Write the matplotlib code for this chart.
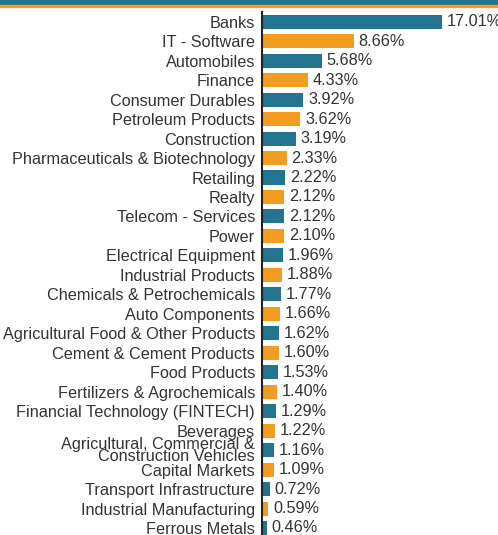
import matplotlib
matplotlib.use("Agg")
from matplotlib import pyplot as plt
from matplotlib.patches import Rectangle

sectors = ["Banks", "IT - Software", "Automobiles", "Finance", "Consumer Durables",
           "Petroleum Products", "Construction", "Pharmaceuticals & Biotechnology",
           "Retailing", "Realty", "Telecom - Services", "Power", "Electrical Equipment",
           "Industrial Products", "Chemicals & Petrochemicals", "Auto Components",
           "Agricultural Food & Other Products", "Cement & Cement Products",
           "Food Products", "Fertilizers & Agrochemicals",
           "Financial Technology (FINTECH)", "Beverages",
           "Agricultural, Commercial &\nConstruction Vehicles", "Capital Markets",
           "Transport Infrastructure", "Industrial Manufacturing", "Ferrous Metals"]
weights = [17.01, 8.66, 5.68, 4.33, 3.92, 3.62, 3.19, 2.33, 2.22, 2.12, 2.12, 2.10,
           1.96, 1.88, 1.77, 1.66, 1.62, 1.60, 1.53, 1.40, 1.29, 1.22, 1.16, 1.09,
           0.72, 0.59, 0.46]

teal = '#23748f'
orange = '#f39c1f'
txt = '#333333'

plt.rcParams['font.family'] = ['Liberation Sans', 'DejaVu Sans']

fig = plt.figure(figsize=(4.98, 5.35), dpi=100)
# top band
fig.patches.append(Rectangle((0, 1 - 5 / 535), 1, 5 / 535, transform=fig.transFigure,
                             color=teal, zorder=0))
fig.patches.append(Rectangle((0, 1 - 7 / 535), 1, 2 / 535, transform=fig.transFigure,
                             color=orange, zorder=0))

ax = fig.add_axes([262 / 498, 0, 236 / 498, 523 / 535])
ypos = list(range(len(sectors)))
colors = [teal if i % 2 == 0 else orange for i in ypos]
ax.barh(ypos, weights, height=0.72, color=colors)

for y, w in zip(ypos, weights):
    ax.text(w + 0.45, y, f"{w:.2f}%", va='center', ha='left', fontsize=11.7, color=txt)

ax.set_yticks(ypos)
ax.set_yticklabels(sectors, fontsize=11.7, color=txt, linespacing=0.78)
ax.tick_params(axis='y', length=0, pad=5)
ax.set_xticks([])
ax.set_xlim(0, 22.3)
ax.set_ylim(26.36, -0.5)
for s in ['top', 'right', 'bottom']:
    ax.spines[s].set_visible(False)
ax.spines['left'].set_linewidth(1.5)
ax.spines['left'].set_color('#222222')

plt.savefig("out.png", dpi=100)
